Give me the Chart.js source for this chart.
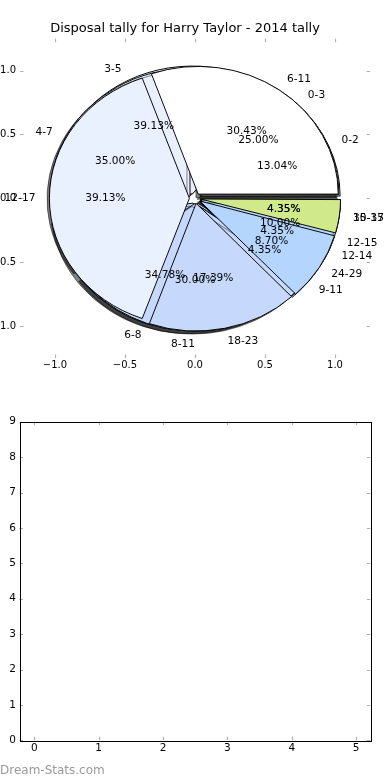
<!DOCTYPE html>
<html>
<head>
<meta charset="utf-8">
<script src="https://cdn.jsdelivr.net/npm/chart.js@4.4.1/dist/chart.umd.min.js"></script>
<style>
html,body{margin:0;padding:0;background:#fff;}
body{width:390px;height:780px;position:relative;overflow:hidden;}
canvas{position:absolute;left:0;}
#wm{position:absolute;left:0;top:762px;font:12px "DejaVu Sans";line-height:16px;color:#9a9a9a;white-space:nowrap;}
</style>
</head>
<body>
<canvas id="pieA" width="390" height="400" style="top:0"></canvas>
<canvas id="pieB" width="390" height="400" style="top:0"></canvas>
<canvas id="pieC" width="390" height="400" style="top:0"></canvas>
<canvas id="axTop" width="390" height="390" style="top:0"></canvas>
<canvas id="axBottom" width="390" height="390" style="top:390px"></canvas>
<div id="wm">Dream-Stats.com</div>
<script>
// ---------- data ----------
const chartTitle = 'Disposal tally for Harry Taylor - 2014 tally';
const pieALabels = ['0-2', '3-5', '6-8', '9-11', '12-14', '15-17'];
const pieAValues = [3, 9, 8, 1, 1, 1];
const pieBLabels = ['0-3', '4-7', '8-11', '12-15'];
const pieBValues = [5, 7, 6, 2];
const pieCLabels = ['6-11', '12-17', '18-23', '24-29', '30-35'];
const pieCValues = [7, 9, 4, 2, 1];
const pieAxisTicks = [-1.0, -0.5, 0.0, 0.5, 1.0];
const emptyXTicks = [0, 1, 2, 3, 4, 5];
const emptyYTicks = [0, 1, 2, 3, 4, 5, 6, 7, 8, 9];

// ---------- style ----------
const palette = ['#ffffff', '#eaf1fe', '#c6d9fd', '#b4d6fe', '#cfe98b', '#f3e1a6'];
const EXPLODE = 0.04;          // in pie-radius units
const R_PX = 140;              // horizontal radius in px
const Y_RATIO = 127.7 / 140;   // vertical squash of the pie (unequal axes)
const FONT = 'DejaVu Sans';
Chart.defaults.font.family = FONT;
Chart.defaults.color = '#000';

function ellipsePlugin(shadow) {
  return {
    id: 'ellipse',
    beforeDatasetsDraw(chart) {
      const ctx = chart.ctx;
      const meta = chart.getDatasetMeta(0);
      const ctrl = meta.controller;
      const off = (chart.data.datasets[0].offset || 0) / 4;
      meta.data.forEach(el => {
        el.outerRadius = ctrl.outerRadius - off * (1 - Math.sin(Math.min(Math.PI, el.circumference)));
      });
      const a = chart.chartArea;
      const cx = (a.left + a.right) / 2, cy = (a.top + a.bottom) / 2;
      ctx.save();
      ctx.translate(cx, cy);
      ctx.scale(1, -Y_RATIO);
      ctx.translate(-cx, -cy);
      if (shadow) {
        ctx.shadowColor = 'rgba(0,0,0,0.5)';
        ctx.shadowOffsetX = -3;
        ctx.shadowOffsetY = 3;
        ctx.shadowBlur = 0;
      }
    },
    afterDatasetsDraw(chart) {
      chart.ctx.restore();
    }
  };
}

function makePie(id, labels, values, shadow) {
  return new Chart(document.getElementById(id), {
    type: 'pie',
    data: {
      labels: labels,
      datasets: [{
        data: values,
        backgroundColor: palette.slice(0, values.length),
        borderColor: '#000',
        borderWidth: 1,
        offset: EXPLODE * R_PX * 4,
        hoverOffset: 0,
        radius: R_PX,
        rotation: 90,
        clip: false
      }]
    },
    options: {
      responsive: false,
      animation: false,
      events: [],
      rotation: 90,
      layout: { padding: { top: 0, bottom: 3.4, left: 0, right: 0 } },
      plugins: { legend: { display: false }, tooltip: { enabled: false }, title: { display: false } }
    },
    plugins: [ellipsePlugin(shadow)]
  });
}

makePie('pieA', pieALabels, pieAValues, true);
makePie('pieB', pieBLabels, pieBValues, true);
makePie('pieC', pieCLabels, pieCValues, false);

const tickMarks = {
  id: 'tickMarks',
  afterDraw(chart) {
    const ctx = chart.ctx, a = chart.chartArea, L = 3.5;
    const xs = chart.scales.x, ys = chart.scales.y;
    ctx.save();
    ctx.strokeStyle = '#b0b0b0';
    ctx.lineWidth = 1.2;
    ctx.beginPath();
    xs.ticks.forEach(t => {
      const p = Math.round(xs.getPixelForValue(t.value)) + 0.5;
      ctx.moveTo(p, a.bottom); ctx.lineTo(p, a.bottom - L);
      ctx.moveTo(p, a.top); ctx.lineTo(p, a.top + L);
    });
    ys.ticks.forEach(t => {
      const p = Math.round(ys.getPixelForValue(t.value)) + 0.5;
      ctx.moveTo(a.left, p); ctx.lineTo(a.left + L, p);
      ctx.moveTo(a.right, p); ctx.lineTo(a.right - L, p);
    });
    ctx.stroke();
    ctx.restore();
  }
};

const pieTexts = {
  id: 'pieTexts',
  afterDraw(chart) {
    const ctx = chart.ctx, xs = chart.scales.x, ys = chart.scales.y;
    ctx.save();
    ctx.font = '10.6px "' + FONT + '"';
    ctx.fillStyle = '#000';
    ctx.textBaseline = 'middle';
    [[pieALabels, pieAValues], [pieBLabels, pieBValues], [pieCLabels, pieCValues]].forEach(([labs, vals]) => {
      const total = vals.reduce((s, v) => s + v, 0);
      let cum = 0;
      vals.forEach((v, i) => {
        const frac = v / total;
        const th = (cum + frac / 2) * 2 * Math.PI;
        cum += frac;
        const ex = EXPLODE * Math.cos(th), ey = EXPLODE * Math.sin(th);
        const lx = ex + 1.1 * Math.cos(th), ly = ey + 1.1 * Math.sin(th);
        ctx.textAlign = lx > 0 ? 'left' : 'right';
        ctx.fillText(labs[i], xs.getPixelForValue(lx), ys.getPixelForValue(ly));
        const px = ex + 0.6 * Math.cos(th), py = ey + 0.6 * Math.sin(th);
        ctx.textAlign = 'center';
        ctx.fillText((frac * 100).toFixed(2) + '%', xs.getPixelForValue(px), ys.getPixelForValue(py));
      });
    });
    ctx.restore();
  }
};

const frame = {
  id: 'frame',
  afterDraw(chart) {
    const ctx = chart.ctx, a = chart.chartArea;
    ctx.save();
    ctx.strokeStyle = '#000';
    ctx.lineWidth = 1;
    ctx.strokeRect(Math.round(a.left) + 0.5, Math.round(a.top) + 0.5, Math.round(a.right - a.left), Math.round(a.bottom - a.top));
    ctx.restore();
  }
};

const fmtSigned = v => (v < 0 ? '\u2212' : '') + Math.abs(v).toFixed(1);

new Chart(document.getElementById('axTop'), {
  type: 'scatter',
  data: { datasets: [] },
  options: {
    responsive: false,
    animation: false,
    events: [],
    layout: { padding: { right: 20, left: 0, top: 0, bottom: 0 } },
    plugins: {
      legend: { display: false },
      tooltip: { enabled: false },
      title: {
        display: true, text: chartTitle, color: '#000',
        font: { family: FONT, size: 13, weight: 'normal', lineHeight: 1.2 },
        padding: { top: 21.3, bottom: 1.8 }
      }
    },
    scales: {
      x: {
        type: 'linear', min: -1.25, max: 1.25, position: 'bottom',
        grid: { display: false, drawTicks: false }, border: { display: false },
        afterBuildTicks: s => { s.ticks = pieAxisTicks.map(v => ({ value: v })); },
        afterFit: s => { s.height = 32; },
        ticks: { padding: 1, autoSkip: false, maxRotation: 0, font: { size: 10 }, color: '#000', callback: v => fmtSigned(v) }
      },
      y: {
        type: 'linear', min: -1.25, max: 1.25, position: 'left',
        grid: { display: false, drawTicks: false }, border: { display: false },
        afterBuildTicks: s => { s.ticks = pieAxisTicks.map(v => ({ value: v })); },
        afterFit: s => { s.width = 20; },
        ticks: { padding: 4, autoSkip: false, font: { size: 10 }, color: '#000', callback: v => fmtSigned(v) }
      }
    }
  },
  plugins: [tickMarks, pieTexts]
});

new Chart(document.getElementById('axBottom'), {
  type: 'scatter',
  data: { datasets: [] },
  options: {
    responsive: false,
    animation: false,
    events: [],
    layout: { padding: { top: 31.7, right: 19.7, left: 0, bottom: 0 } },
    plugins: { legend: { display: false }, tooltip: { enabled: false } },
    scales: {
      x: {
        type: 'linear', min: -0.23, max: 5.22, position: 'bottom',
        grid: { display: false, drawTicks: false }, border: { display: false },
        afterBuildTicks: s => { s.ticks = emptyXTicks.map(v => ({ value: v })); },
        afterFit: s => { s.height = 39.7; },
        ticks: { padding: 2, autoSkip: false, maxRotation: 0, font: { size: 10.5 }, color: '#000', callback: v => String(v) }
      },
      y: {
        type: 'linear', min: 0, max: 9, position: 'left',
        grid: { display: false, drawTicks: false }, border: { display: false },
        afterBuildTicks: s => { s.ticks = emptyYTicks.map(v => ({ value: v })); },
        afterFit: s => { s.width = 19.5; },
        ticks: { padding: 3.5, autoSkip: false, font: { size: 10.5 }, color: '#000', callback: v => String(v) }
      }
    }
  },
  plugins: [tickMarks, frame]
});
</script>
</body>
</html>
